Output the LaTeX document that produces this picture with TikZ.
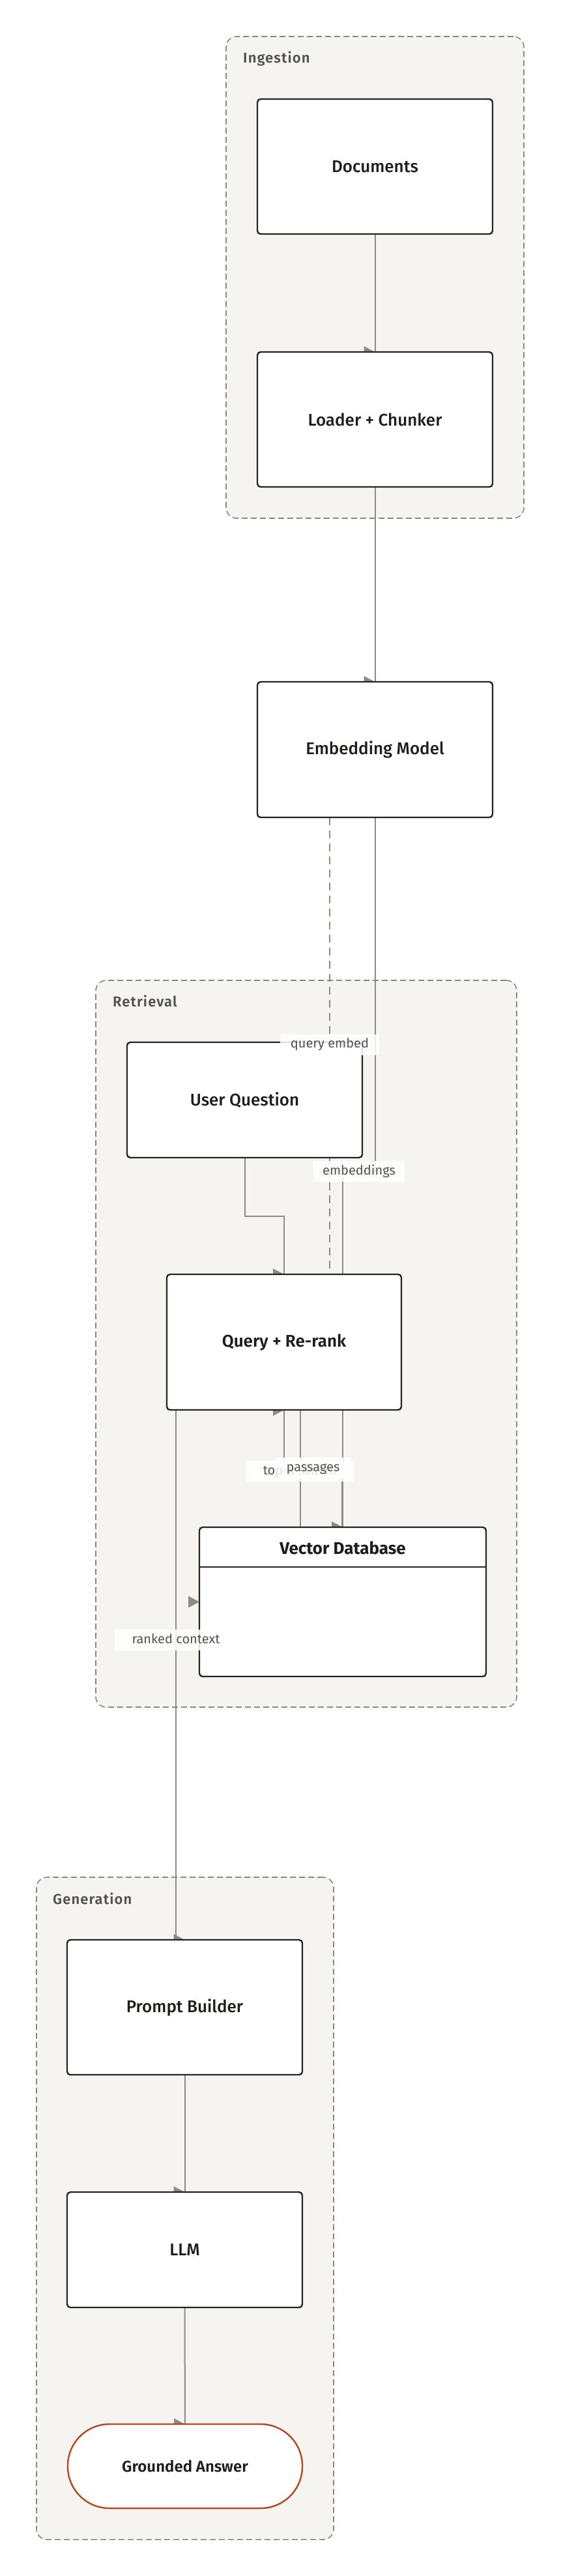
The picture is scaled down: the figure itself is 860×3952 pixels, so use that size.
\documentclass[tikz,border=0pt]{standalone}
\usepackage{fontspec}
\setmainfont{Fira Sans}
\newfontfamily\fmed{Fira Sans Medium}
\newfontfamily\fsemi{Fira Sans SemiBold}
\newfontfamily\fsemisp{Fira Sans SemiBold}[LetterSpace=5]
\usetikzlibrary{calc}
\pgfdeclarelayer{bg}
\pgfdeclarelayer{edges}
\pgfdeclarelayer{labels}
\pgfsetlayers{bg,edges,main,labels}
\definecolor{clfill}{HTML}{F5F4F0}
\definecolor{cldash}{HTML}{8A8781}
\definecolor{edgec}{HTML}{8E8A84}
\definecolor{nodeb}{HTML}{262422}
\definecolor{txt}{HTML}{1F1D1B}
\definecolor{lbl}{HTML}{55524D}
\definecolor{ans}{HTML}{B5461F}
\newcommand{\arrtip}[1]{\fill[edgec] ([shift={(-17,-9)}]#1) -- (#1) -- ([shift={(-17,9)}]#1) -- cycle;}
\begin{document}
\begin{tikzpicture}[x=1pt,y=-1pt,
  box/.style={draw=nodeb, line width=2.4pt, fill=white, rounded corners=5pt,
    minimum width=361pt, minimum height=207pt, inner sep=0pt, outer sep=0pt,
    text=txt, font=\fmed\fontsize{26}{30}\selectfont},
  cluster/.style={draw=cldash, fill=clfill, line width=1.6pt, dash pattern=on 9pt off 5pt,
    rounded corners=16pt, inner sep=0pt, outer sep=0pt},
  cllabel/.style={text=lbl, font=\fsemisp\fontsize{22}{26}\selectfont, inner sep=0pt, anchor=base west},
  edge/.style={draw=edgec, line width=2pt},
  elabel/.style={fill=white, fill opacity=0.85, text opacity=1, text=lbl,
    font=\fontsize{20}{24}\selectfont, minimum height=32pt, inner sep=0pt,
    text height=14pt, text depth=4pt}
]
\useasboundingbox (0,0) rectangle (860,3952);

% clusters
\begin{pgfonlayer}{bg}
  \fill[white] (0,0) rectangle (860,3952);
  \node[cluster, minimum width=457pt, minimum height=739pt] (ing) at (575.5,425.5) {};
  \node[cluster, minimum width=646pt, minimum height=1115pt] (ret) at (470,2061.5) {};
  \node[cluster, minimum width=456pt, minimum height=1016pt] (gen) at (284,3388) {};
  \node[cllabel] (ingl) at (373,96) {Ingestion};
  \node[cllabel] (retl) at (173,1544) {Retrieval};
  \node[cllabel] (genl) at (81,2921) {Generation};
\end{pgfonlayer}

% nodes
\node[box] (docs) at (575.5,255.5) {Documents};
\node[box] (loader) at (575.5,643.5) {Loader + Chunker};
\node[box, minimum height=208pt] (embed) at (575.5,1150) {Embedding Model};
\node[box, minimum height=177pt] (user) at (375.5,1687.5) {User Question};
\node[box, minimum width=360pt, minimum height=208pt, font=\fsemi\fontsize{26}{30}\selectfont] (query) at (436,2059) {Query + Re-rank};
\node[box, minimum width=440pt, minimum height=229pt] (vdb) at (526,2457.5) {};
\node[text=txt, font=\bfseries\fontsize{26}{30}\selectfont, inner sep=0pt] (vdbt) at (526,2375) {Vector Database};
\draw[nodeb, line width=2.4pt] (vdb.west |- 0,2404) -- (vdb.east |- 0,2404);
\node[box] (prompt) at (283.5,3079.5) {Prompt Builder};
\node[box, minimum height=177pt] (llm) at (283.5,3451.5) {LLM};
\node[box, draw=ans, minimum width=360pt, minimum height=129pt, rounded corners=64pt,
  font=\fsemi\fontsize{24}{28}\selectfont] (answer) at (284,3783.5) {Grounded Answer};

% edges
\begin{pgfonlayer}{edges}
  \draw[edge] (docs.south) -- (loader.north); \arrtip{loader.north}
  \draw[edge] (loader.south) -- (embed.north); \arrtip{embed.north}
  \draw[edge, dash pattern=on 12pt off 8pt] (506,0 |- embed.south) -- (506,0 |- query.north);
  \draw[edge] (embed.south) -- (embed.south |- 0,1797) -- (vdb.north |- 0,1797) -- (vdb.north); \arrtip{vdb.north}
  \draw[edge] (user.south) -- (user.south |- 0,1866) -- (query.north |- 0,1866) -- (query.north); \arrtip{query.north}
  \draw[edge] (461,0 |- query.south) -- (461,0 |- vdb.north); \arrtip{vdb.west}
  \draw[edge] (525,0 |- vdb.north) -- (525,2252) -- (query.south |- 0,2252) -- (query.south); \arrtip{query.south}
  \draw[edge] (270,0 |- query.south) -- (270,0 |- prompt.north) -- (prompt.north); \arrtip{prompt.north}
  \draw[edge] (prompt.south) -- (llm.north); \arrtip{llm.north}
  \draw[edge] (llm.south) -- (answer.north); \arrtip{answer.north}
\end{pgfonlayer}

% edge labels
\begin{pgfonlayer}{labels}
  \node[elabel, minimum width=152pt] (lqe) at (506,1602.5) {query embed};
  \node[elabel, minimum width=140pt] (lemb) at (551,1797) {embeddings};
  \node[elabel, minimum width=165pt] (ltop) at (460.5,2257) {top-k search};
  \node[elabel, minimum width=115pt] (lpas) at (480.5,2252) {passages};
  \node[elabel, minimum width=189pt] (lrank) at (270,2516) {ranked context};
\end{pgfonlayer}
\end{tikzpicture}
\end{document}
